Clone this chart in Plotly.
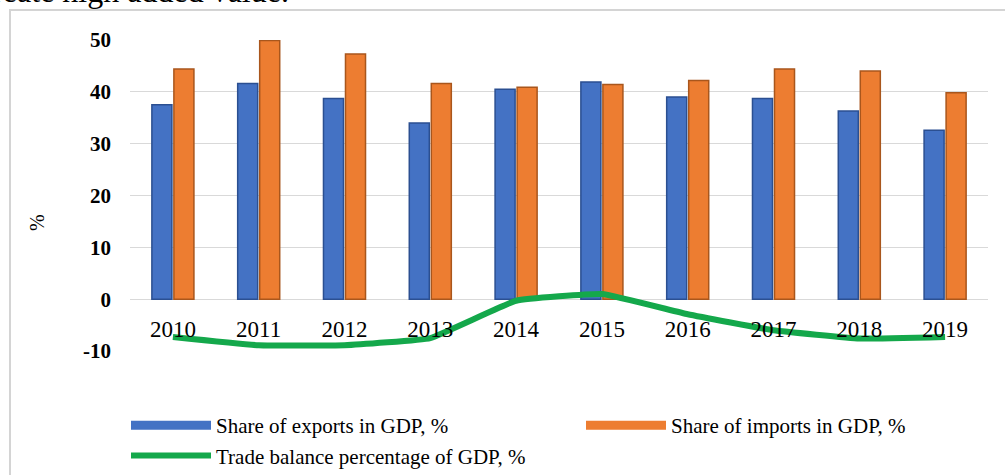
import plotly.graph_objects as go

years = ["2010", "2011", "2012", "2013", "2014", "2015", "2016", "2017", "2018", "2019"]
exports_share = [37.5, 41.6, 38.7, 34.0, 40.5, 41.9, 39.0, 38.7, 36.3, 32.6]
imports_share = [44.4, 49.9, 47.3, 41.6, 40.9, 41.4, 42.2, 44.4, 44.0, 39.8]
trade_balance = [-7.3, -8.9, -8.9, -7.5, -0.3, 1.0, -2.9, -6.0, -7.6, -7.3]
y_tick_values = [-10, 0, 10, 20, 30, 40, 50]
y_tick_labels = ["-10", "0", "10", "20", "30", "40", "50"]

W, H = 1005, 475
L, R, T, B = 130, 17, 40, 124
PW, PH = W - L - R, H - T - B
YMIN, YMAX = -10, 50

def px_x(px):
    return (px - L) / PW

def px_y(py):
    return (H - B - py) / PH

SERIF = "Liberation Serif, Times New Roman, serif"
BLUE, BLUE_EDGE = "#4472C4", "#2B4F91"
ORANGE, ORANGE_EDGE = "#ED7D31", "#A9561C"
GREEN = "#14A84B"

fig = go.Figure()
fig.add_trace(go.Bar(
    x=years, y=exports_share, name="Share of exports in GDP, %",
    legendgroup="exp", showlegend=False,
    marker=dict(color=BLUE, line=dict(color=BLUE_EDGE, width=1.5)),
))
fig.add_trace(go.Bar(
    x=years, y=imports_share, name="Share of imports in GDP, %",
    legendgroup="imp", showlegend=False,
    marker=dict(color=ORANGE, line=dict(color=ORANGE_EDGE, width=1.5)),
))
fig.add_trace(go.Scatter(
    x=years, y=trade_balance, name="Trade balance percentage of GDP, %",
    legendgroup="tb", legendrank=3, legend="legend",
    mode="lines", line=dict(color=GREEN, width=6, shape="spline", smoothing=0.3),
))
# legend keys drawn as wide bars (like the reference's bar-shaped keys)
fig.add_trace(go.Scatter(
    x=[None], y=[None], name="Share of exports in GDP, %", legendgroup="exp",
    legendrank=1, legend="legend", mode="lines", line=dict(color=BLUE, width=9),
))
fig.add_trace(go.Scatter(
    x=[None], y=[None], name="Share of imports in GDP, %", legendgroup="imp",
    legendrank=2, legend="legend2", mode="lines", line=dict(color=ORANGE, width=9),
))

legend_common = dict(
    orientation="v", xanchor="left", yanchor="top", itemwidth=80,
    font=dict(family=SERIF, size=21, color="#000000"),
    bgcolor="rgba(0,0,0,0)", traceorder="normal", tracegroupgap=0,
)

fig.update_layout(
    width=W, height=H,
    margin=dict(l=L, r=R, t=T, b=B, autoexpand=False),
    paper_bgcolor="white", plot_bgcolor="white",
    barmode="group", bargap=0.487, bargroupgap=0.09,
    font=dict(family=SERIF, color="#000000"),
    showlegend=True,
    legend=dict(x=px_x(126), y=px_y(405), **legend_common),
    legend2=dict(x=px_x(581), y=px_y(405), **legend_common),
    xaxis=dict(
        type="category", anchor="free", position=(0 - YMIN) / (YMAX - YMIN),
        showline=False, showgrid=False, ticks="", zeroline=False,
        tickfont=dict(family=SERIF, size=23, color="#000000"),
        ticklabelstandoff=14,
    ),
    yaxis=dict(
        range=[YMIN, YMAX], tickmode="array", tickvals=y_tick_values, ticktext=y_tick_labels,
        showgrid=True, gridcolor="#D9D9D9", gridwidth=1,
        zeroline=False, showline=False, ticks="",
        tickfont=dict(family=SERIF, size=21, color="#000000", weight="bold"),
        ticklabelstandoff=18,
    ),
    annotations=[
        dict(text="%", textangle=-90, xref="paper", yref="paper",
             x=px_x(37), y=px_y(223), xanchor="center", yanchor="middle", showarrow=False,
             font=dict(family=SERIF, size=20, color="#000000")),
        dict(text="create high added value.", xref="paper", yref="paper",
             x=px_x(291), y=px_y(11), xanchor="right", yanchor="bottom",
             showarrow=False, font=dict(family=SERIF, size=32, color="#000000")),
    ],
    shapes=[
        dict(type="rect", xref="paper", yref="paper",
             x0=px_x(10), x1=px_x(1010), y0=px_y(480), y1=px_y(10),
             line=dict(color="#D4D4D4", width=2), fillcolor="rgba(0,0,0,0)",
             layer="below"),
    ],
)

fig.write_html("out.html")
